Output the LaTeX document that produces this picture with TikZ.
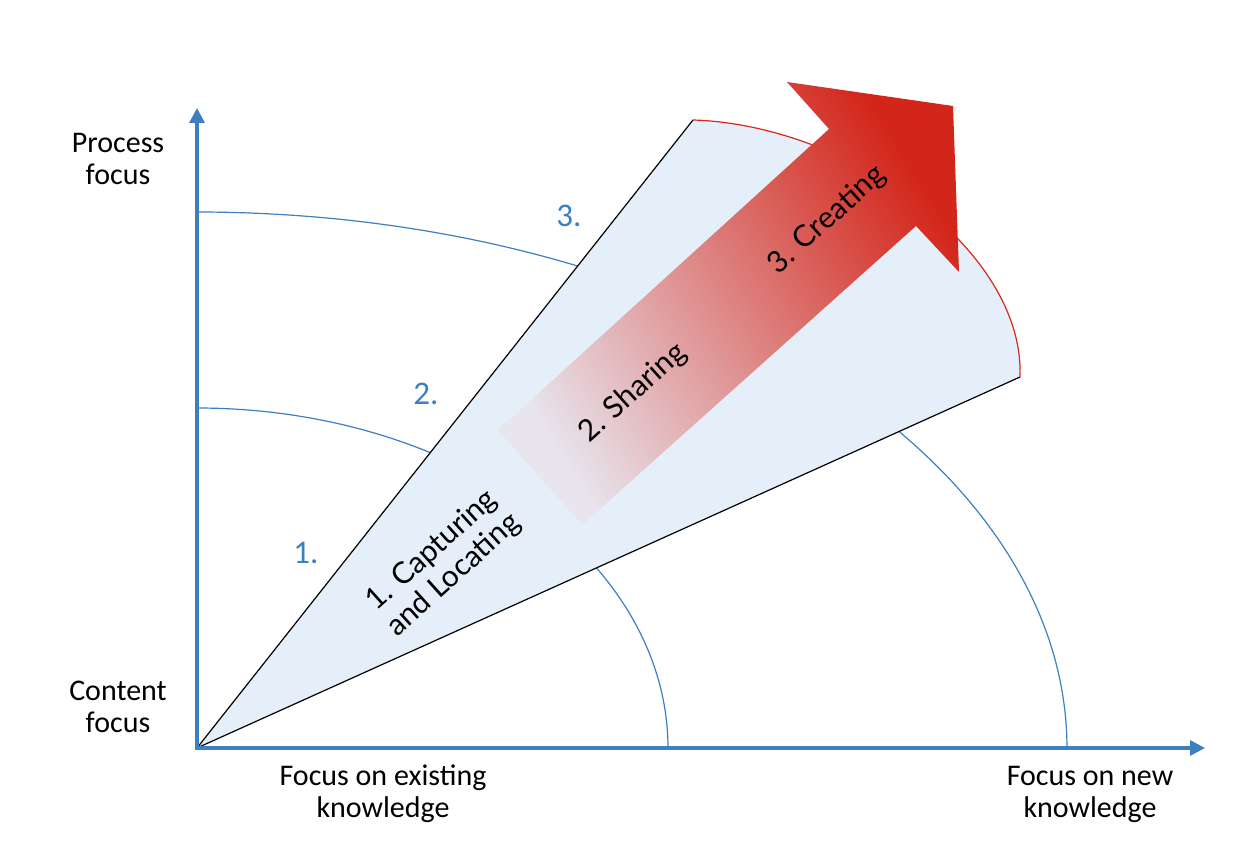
\documentclass[tikz,border=0pt]{standalone}
\usepackage{fontspec}
\setmainfont{Carlito}
\newfontfamily\gillfont{Lato}
\usetikzlibrary{arrows.meta}
\definecolor{axisblue}{HTML}{3D7FC1}
\definecolor{wedgefill}{HTML}{E5EFFA}
\definecolor{arcred}{HTML}{D8281C}
\definecolor{arrowlight}{HTML}{E8E5EE}
\definecolor{arrowmid}{HTML}{DE9088}
\definecolor{arrowdark}{HTML}{D3261A}
\tikzset{
  axislab/.style={align=center, font=\fontsize{30}{32}\selectfont, inner sep=0pt},
  bluenum/.style={text=axisblue, font=\fontsize{33}{36}\selectfont, inner sep=0pt},
  arrowlab/.style={align=center, font=\gillfont\fontsize{30}{33}\selectfont, inner sep=0pt, rotate=42},
  thinblue/.style={draw=axisblue, line width=1.2pt},
}
\begin{document}
\begin{tikzpicture}[x=1pt,y=1pt]
\useasboundingbox (0,0) rectangle (1234,864);
% named points
\coordinate (O) at (197,116);
\coordinate (ytop) at (197,756);
\coordinate (xend) at (1205,116);
\coordinate (A) at (693,744);
\coordinate (E) at (1020,487);
% blue arcs
\draw[thinblue] plot[domain=0:90, samples=80, smooth] ({197+471*cos(\x)},{116+340*sin(\x)});
\draw[thinblue] plot[domain=0:90, samples=100, smooth] ({197+870*cos(\x)},{116+536*sin(\x)});
% wedge
\fill[wedgefill] (O) -- (A) .. controls (850,739) and (1025,614) .. (E) -- cycle;
\draw[black, line width=1.2pt] (A) -- (O) -- (E);
\draw[arcred, line width=1.2pt] (A) .. controls (850,739) and (1025,614) .. (E);
% big arrow
\coordinate (tl) at (498,434);
\coordinate (tr) at (582,339);
\coordinate (shl) at (829,735);
\coordinate (shr) at (916,638);
\coordinate (hl) at (787,782);
\coordinate (tip) at (953,758);
\coordinate (hr) at (959,592);
\shade[bottom color=arrowlight, middle color=arrowmid, top color=arrowdark, shading angle=-58]
  (tl) -- (shl) -- (hl) -- (tip) -- (hr) -- (shr) -- (tr) -- cycle;
% axes
\draw[axisblue, line width=3.2pt, line join=miter, {Triangle[width=15pt,length=15pt]}-{Triangle[width=15pt,length=15pt]}]
  (ytop) -- (O) -- (xend);
% axis labels
\node[axislab] (pf) at (118,705) {Process\\focus};
\node[axislab] (cf) at (118,157) {Content\\focus};
\node[axislab] (fe) at (383,70) {Focus on existing\\knowledge};
\node[axislab] (fn) at (1090,70) {Focus on new\\knowledge};
% blue numbers
\node[bluenum] (n1) at (306,311) {1.};
\node[bluenum] (n2) at (426,470) {2.};
\node[bluenum] (n3) at (569,648) {3.};
% arrow labels
\node[arrowlab] (t1) at (443,301) {1. Capturing\\and Locating};
\node[arrowlab] (t2) at (633,471) {2. Sharing};
\node[arrowlab] (t3) at (827,644) {3. Creating};
\end{tikzpicture}
\end{document}
